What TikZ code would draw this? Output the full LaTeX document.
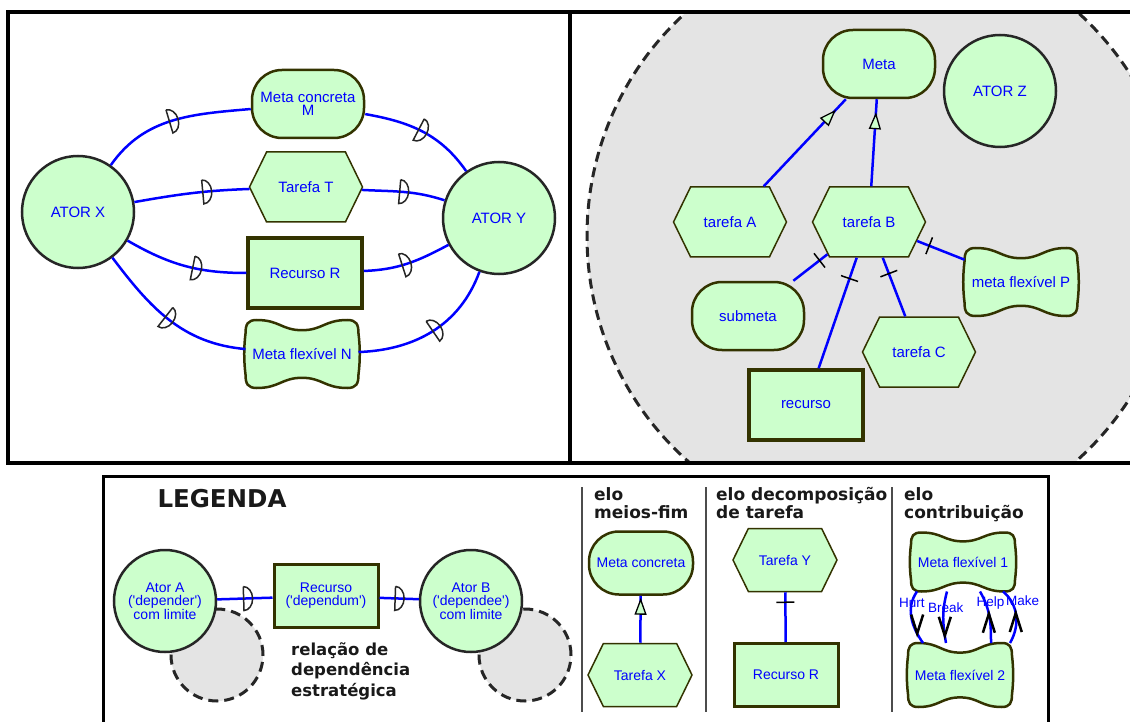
\documentclass[tikz,border=0pt]{standalone}
\usepackage{fontspec}
\setmainfont{Liberation Sans}
\newfontfamily\headfont{DejaVu Sans}
\usepackage{tikz}
\usetikzlibrary{shapes.symbols, arrows.meta, decorations.markings}

\definecolor{mint}{RGB}{204,255,204}
\definecolor{olivedark}{RGB}{51,51,0}
\definecolor{istarblue}{RGB}{0,0,255}
\definecolor{limitgray}{RGB}{228,228,228}

% forma da meta flexível (bordas onduladas)
\makeatletter
\newdimen\sgL \newdimen\sgB \newdimen\sgW \newdimen\sgH
\newcommand\sgpt[2]{\pgfpoint{\sgL+(#1)*\sgW}{\sgB+(#2)*\sgH}}
\pgfdeclareshape{softgoal}{
  \inheritsavedanchors[from=rectangle]
  \inheritanchorborder[from=rectangle]
  \inheritanchor[from=rectangle]{center}
  \inheritanchor[from=rectangle]{north}
  \inheritanchor[from=rectangle]{south}
  \inheritanchor[from=rectangle]{east}
  \inheritanchor[from=rectangle]{west}
  \inheritanchor[from=rectangle]{north east}
  \inheritanchor[from=rectangle]{north west}
  \inheritanchor[from=rectangle]{south east}
  \inheritanchor[from=rectangle]{south west}
  \backgroundpath{
    \southwest \sgL=\pgf@x \sgB=\pgf@y
    \northeast \sgW=\pgf@x \sgH=\pgf@y
    \advance\sgW by -\sgL \advance\sgH by -\sgB
    \pgfpathmoveto{\sgpt{0.1}{1}}
    \pgfpathcurveto{\sgpt{0.3}{1}}{\sgpt{0.32}{0.85}}{\sgpt{0.5}{0.85}}
    \pgfpathcurveto{\sgpt{0.68}{0.85}}{\sgpt{0.7}{1}}{\sgpt{0.9}{1}}
    \pgfpathcurveto{\sgpt{0.98}{1}}{\sgpt{1}{0.94}}{\sgpt{1}{0.8}}
    \pgfpathcurveto{\sgpt{1.015}{0.6}}{\sgpt{1.015}{0.4}}{\sgpt{1}{0.2}}
    \pgfpathcurveto{\sgpt{1}{0.06}}{\sgpt{0.98}{0}}{\sgpt{0.9}{0}}
    \pgfpathcurveto{\sgpt{0.7}{0}}{\sgpt{0.68}{0.15}}{\sgpt{0.5}{0.15}}
    \pgfpathcurveto{\sgpt{0.32}{0.15}}{\sgpt{0.3}{0}}{\sgpt{0.1}{0}}
    \pgfpathcurveto{\sgpt{0.02}{0}}{\sgpt{0}{0.06}}{\sgpt{0}{0.2}}
    \pgfpathcurveto{\sgpt{-0.015}{0.4}}{\sgpt{-0.015}{0.6}}{\sgpt{0}{0.8}}
    \pgfpathcurveto{\sgpt{0}{0.94}}{\sgpt{0.02}{1}}{\sgpt{0.1}{1}}
    \pgfpathclose
  }
}
\makeatother

\begin{document}
\begin{tikzpicture}[x=1pt, y=1pt,
    elem/.style={fill=mint, inner sep=0pt, align=center, text=istarblue, font=\fontsize{15}{12}\selectfont},
    actor/.style={elem, circle, draw=black!85, line width=2.5pt, minimum size=112pt},
    goal/.style={elem, rectangle, rounded corners=30pt, draw=olivedark, line width=2.5pt, minimum width=112pt, minimum height=68pt},
    task/.style={elem, signal, signal to=west and east, signal pointer angle=128, draw=olivedark, line width=1.5pt, minimum width=113pt, minimum height=70pt},
    resource/.style={elem, rectangle, draw=olivedark, line width=3.5pt, minimum width=114pt, minimum height=70pt},
    soft/.style={elem, softgoal, draw=olivedark, line width=2.5pt, outer sep=0pt, minimum width=113pt, minimum height=68pt},
    leg/.style={font=\fontsize{14}{13}\selectfont, minimum width=104pt, minimum height=63pt},
    fronteira/.style={circle, draw=black!85, fill=limitgray, line width=3pt, dash pattern=on 10pt off 6pt},
    link/.style={istarblue, line width=2.5pt},
    lbl/.style={text=istarblue, font=\fontsize{13.5}{13.5}\selectfont, inner sep=0pt},
    titulo/.style={font=\headfont\bfseries\fontsize{17}{18.5}\selectfont, text=black!90, align=left, inner sep=0pt, anchor=north west},
    dep/.style={postaction={decorate}, decoration={markings, mark=at position #1 with {\draw[black!85, line width=1.5pt] (-4pt,12pt) -- (-4pt,-12pt) arc[start angle=-90, end angle=90, x radius=9pt, y radius=12pt];}}},
    meansend/.style={postaction={decorate}, decoration={markings, mark=at position #1 with {\arrow{Triangle[length=17pt, width=12pt, fill=mint, color=black, line width=1.3pt]}}}},
    decomp/.style={postaction={decorate}, decoration={markings, mark=at position #1 with {\draw[black, line width=1.5pt] (0,-9pt) -- (0,9pt);}}},
    contribbaixo/.style={postaction={decorate}, decoration={markings, mark=at position #1 with {\pgftransformresetnontranslations \draw[black, line width=2.5pt] (-6pt,19pt) -- (0,0) -- (6pt,19pt);}}},
    contribcima/.style={postaction={decorate}, decoration={markings, mark=at position #1 with {\pgftransformresetnontranslations \draw[black, line width=2.5pt] (-6pt,-19pt) -- (0,0) -- (6pt,-19pt);}}},
]
    \fill[white] (0,0) rectangle (1130,-722);
    \useasboundingbox (0,0) rectangle (1130,-722);

    % limite do ator Z (quadro da direita)
    \begin{scope}
        \clip (570,-12) rectangle (1130,-463);
        \draw[fill=limitgray, draw=black!85, line width=3pt, dash pattern=on 10pt off 6pt] (882,-236) ellipse [x radius=295, y radius=299];
    \end{scope}

    % molduras
    \draw[line width=4pt] (1134,-12) -- (8,-12) -- (8,-463) -- (1134,-463);
    \draw[line width=4pt] (570,-12) -- (570,-463);
    \draw[line width=3pt] (103,-726) -- (103,-476) -- (1048,-476) -- (1048,-726);
    \foreach \x in {582,706,892}
        \draw[black!70, line width=1.5pt] (\x,-487) -- (\x,-712);

    % dependências entre atores
    \node[actor] (atorX) at (78,-212) {ATOR X};
    \node[actor] (atorY) at (499,-218) {ATOR Y};
    \node[goal, font=\fontsize{15}{13.5}\selectfont] (metaM) at (308,-104) {Meta concreta\\M};
    \node[task] (tarefaT) at (306,-187) {Tarefa T};
    \node[resource] (recursoR) at (305,-273) {Recurso R};
    \node[soft] (metaN) at (302,-354) {Meta flexível N};

    \draw[link, dep=0.5] (atorX) to[out=55, in=185] (metaM);
    \draw[link, dep=0.5] (metaM) to[out=-10, in=125] (atorY);
    \draw[link, dep=0.63] (atorX) to[out=10, in=182] (tarefaT);
    \draw[link, dep=0.5] (tarefaT) to[out=-3, in=162] (atorY);
    \draw[link, dep=0.6] (atorX) to[out=-30, in=180] (recursoR);
    \draw[link, dep=0.48] (recursoR) to[out=2, in=208] (atorY);
    \draw[link, dep=0.5] (atorX) to[out=-53, in=175] (metaN);
    \draw[link, dep=0.53] (metaN) to[out=2, in=250] (atorY);

    % elementos internos do ator Z
    \node[goal] (meta) at (879,-64) {Meta};
    \node[actor] (atorZ) at (1000,-91) {ATOR Z};
    \node[task] (tarefaA) at (730,-222) {tarefa A};
    \node[task] (tarefaB) at (869,-222) {tarefa B};
    \node[goal] (submeta) at (748,-316) {submeta};
    \node[soft] (metaP) at (1021,-282) {meta flexível P};
    \node[task] (tarefaC) at (919,-352) {tarefa C};
    \node[resource] (recurso) at (806,-405) {recurso};

    \draw[link, meansend=-14pt] (tarefaA) -- (meta);
    \draw[link, meansend=-13pt] (tarefaB) -- (meta);
    \draw[link, decomp=10pt] (tarefaB) -- (submeta);
    \draw[link, decomp=22pt] (tarefaB) -- (recurso);
    \draw[link, decomp=17pt] (tarefaB) -- (tarefaC);
    \draw[link, decomp=13pt] (tarefaB) -- (metaP);

    % legenda
    \node[font=\headfont\bfseries\fontsize{24.5}{25}\selectfont, text=black!90] (legenda) at (222,-499) {LEGENDA};
    \node[fronteira, minimum size=92pt] (limA) at (217,-655) {};
    \node[fronteira, minimum size=92pt] (limB) at (525,-655) {};
    \node[actor, leg, minimum size=102pt] (atorA) at (165,-601) {Ator A\\(\textquotesingle depender\textquotesingle)\\com limite};
    \node[resource, leg, line width=3pt] (recursoD) at (326,-596) {Recurso\\(\textquotesingle dependum\textquotesingle)};
    \node[actor, leg, minimum size=102pt] (atorB) at (471,-601) {Ator B\\(\textquotesingle dependee\textquotesingle)\\com limite};
    \node[titulo, font=\headfont\bfseries\fontsize{16.5}{20.5}\selectfont] (relacao) at (291,-642) {relação de\\dependência\\estratégica};
    \draw[link, dep=0.55] (atorA) -- (recursoD);
    \draw[link, dep=0.5] (recursoD) -- (atorB);

    % elo meios-fim
    \node[titulo] (tMeios) at (594,-487) {elo\\meios-fim};
    \node[goal, leg] (metaC) at (641,-563) {Meta concreta};
    \node[task, leg] (tarefaX) at (640,-675) {Tarefa X};
    \draw[link, meansend=-2pt] (tarefaX) -- (metaC);

    % elo decomposição
    \node[titulo] (tDecomp) at (716,-487) {elo decomposição\\de tarefa};
    \node[task, leg] (tarefaY) at (785,-560) {Tarefa Y};
    \node[resource, leg, line width=3pt] (recursoL) at (786,-675) {Recurso R};
    \draw[link, decomp=10pt] (tarefaY) -- (recursoL);

    % elo contribuição
    \node[titulo] (tContrib) at (904,-487) {elo\\contribuição};
    \node[soft, leg, minimum height=59pt] (metaF1) at (963,-562) {Meta flexível 1};
    \node[soft, leg, minimum height=64pt] (metaF2) at (960,-675) {Meta flexível 2};
    \draw[link, contribbaixo=0.8] ([xshift=6pt]metaF1.south west) to[out=235, in=125] node[lbl, pos=0.22] {Hurt} ([xshift=15pt]metaF2.north west);
    \draw[link, contribbaixo=0.86] ([xshift=36pt]metaF1.south west) to[out=255, in=100] node[lbl, pos=0.3, xshift=2pt] {Break} ([xshift=38pt]metaF2.north west);
    \draw[link, contribcima=0.55] ([xshift=83pt]metaF2.north west) to[out=90, in=-60] node[lbl, pos=0.78, xshift=5pt] {Help} ([xshift=69pt]metaF1.south west);
    \draw[link, contribcima=0.55] ([xshift=-2pt]metaF2.north east) to[out=60, in=-40] node[lbl, pos=0.8, xshift=12pt] {Make} ([xshift=-12pt]metaF1.south east);
\end{tikzpicture}
\end{document}
